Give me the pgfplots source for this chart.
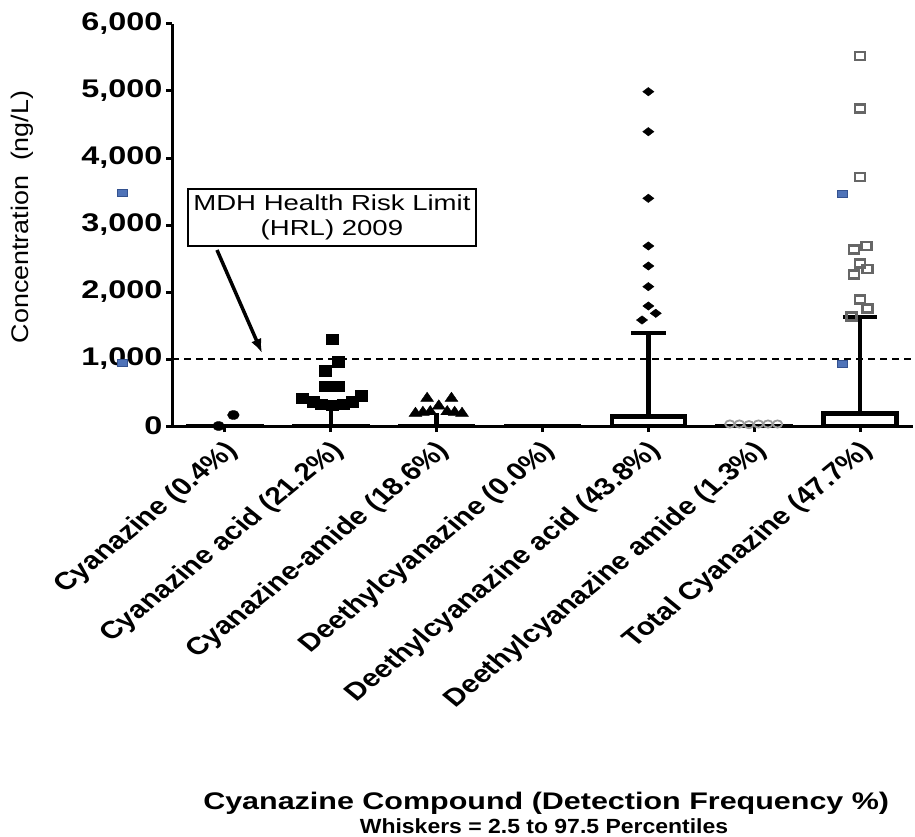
\documentclass[border=0pt]{standalone}
\usepackage{fontspec}
\setmainfont{Liberation Sans}
\newfontfamily\wide{Liberation Sans}[FakeStretch=1.27]
\newfontfamily\ylf{Liberation Sans}[FakeStretch=1.12]
\usepackage{pgfplots}
\pgfplotsset{compat=1.18}
\usetikzlibrary{arrows.meta}
\definecolor{bluesq}{HTML}{4F73B8}
\definecolor{bluesqd}{HTML}{34528F}
\definecolor{graysq}{HTML}{666666}
\definecolor{graycirc}{HTML}{9C9C9C}
\begin{document}
\begin{tikzpicture}
\begin{axis}[
  at={(172pt,410pt)}, anchor=south west,
  scale only axis, width=741pt, height=402pt,
  xmin=0.5, xmax=7.5, ymin=0, ymax=6000,
  axis x line=bottom, axis y line=left,
  axis line style={line width=3pt, -},
  xtick={1,2,3,4,5,6,7},
  xticklabels={Cyanazine (0.4\%),Cyanazine acid (21.2\%),Cyanazine-amide (18.6\%),Deethylcyanazine (0.0\%),Deethylcyanazine acid (43.8\%),Deethylcyanazine amide (1.3\%),Total Cyanazine (47.7\%)},
  ytick={0,1000,2000,3000,4000,5000,6000},
  tick align=outside, major tick length=6pt,
  tick style={line width=3pt, black},
  xticklabel style={font=\bfseries\fontsize{24.5}{26}\selectfont, xshift=11pt, yshift=-13pt, xscale=1.22, rotate=45, anchor=east},
  yticklabel style={font=\wide\bfseries\fontsize{25.5}{28}\selectfont},
  /pgf/number format/assume math mode=true,
  /pgf/number format/1000 sep={,},
  scaled y ticks=false,
  clip=false,
  boxst/.style={black, line width=4.5pt, line join=miter, line cap=rect, mark=none},
]
% HRL line
\addplot[line width=1.3pt, dash pattern=on 7pt off 5pt] coordinates {(0.5,1000) (7.5,1000)};
% degenerate boxes at zero
\addplot[boxst] coordinates {(0.655,0) (1.345,0)};
\addplot[boxst] coordinates {(1.655,0) (2.345,0)};
\addplot[boxst] coordinates {(2.655,0) (3.345,0)};
\addplot[boxst] coordinates {(3.655,0) (4.345,0)};
\addplot[boxst] coordinates {(5.655,0) (6.345,0)};
% whiskers for cat 2, 3
\addplot[boxst, line cap=butt] coordinates {(2,0) (2,340)};
\addplot[boxst, line cap=butt] coordinates {(1.8375,340) (2.1625,340)};
\addplot[boxst, line cap=butt] coordinates {(3,0) (3,200)};
% Deethylcyanazine acid box
\addplot[boxst, line cap=butt] coordinates {(5,140) (5,1390)};
\addplot[boxst, line cap=butt] coordinates {(4.8375,1390) (5.1625,1390)};
\addplot[boxst, fill=white] coordinates {(4.655,0) (5.345,0) (5.345,140) (4.655,140) (4.655,0)};
% Total box
\addplot[boxst, line cap=butt] coordinates {(7,190) (7,1630)};
\addplot[boxst, line cap=butt] coordinates {(6.8375,1630) (7.1625,1630)};
\addplot[boxst, fill=white] coordinates {(6.655,0) (7.345,0) (7.345,190) (6.655,190) (6.655,0)};
% points
\addplot[only marks, black, mark=*, mark size=4.5pt, mark options={xscale=1.3}] coordinates {(0.94,0) (1.08,164)};
\addplot[only marks, black, mark=square*, mark size=5.2pt, mark options={xscale=1.15}] coordinates {
(2.01,1294) (2.07,960) (1.95,826) (1.95,597) (2.07,597) (1.73,413) (2.29,453) (1.83,363) (1.91,328) (2.01,313) (2.12,328) (2.2,363)};
\addplot[only marks, black, mark=triangle*, mark size=6.2pt, mark options={xscale=1.2}] coordinates {
(2.91,413) (3.14,413) (3.02,299) (2.8,189) (2.87,204) (2.94,214) (3.1,214) (3.17,204) (3.24,189)};
\addplot[only marks, black, mark=diamond*, mark size=5.6pt, mark options={rotate=90}] coordinates {
(5,4990) (5,4393) (5,3398) (5,2687) (5,2388) (5,2080) (5,1791) (5.07,1682) (4.94,1582)};
\addplot[only marks, graycirc, mark=o, mark size=3.6pt, mark options={xscale=1.3, line width=1.8pt}] coordinates {
(5.77,30) (5.86,30) (5.95,20) (6.04,30) (6.13,30) (6.22,30)};
\addplot[only marks, graysq, mark=square, mark size=4pt, mark options={xscale=1.25, line width=2.4pt}] coordinates {
(7,5522) (7,4736) (7,3716) (6.94,2637) (7.06,2687) (7,2428) (7.07,2343) (6.94,2264) (7,1891) (7.07,1756) (6.92,1632)};
\addplot[only marks, mark=square*, mark size=3.5pt, mark options={xscale=1.4, fill=bluesq, draw=bluesqd, line width=0.6pt}] coordinates {
(6.83,3473) (6.83,935) (0.03,3477) (0.03,940)};
% annotation
\node[draw, line width=1.2pt, fill=white, minimum width=288pt, minimum height=57pt, inner sep=0pt, align=center, font=\wide\fontsize{21.7}{25}\selectfont] at (axis cs:2.011,3112) {MDH Health Risk Limit\\(HRL) 2009};
\draw[line width=3.5pt, -{Latex[length=14pt,width=11pt]}] (axis cs:0.925,2627) -- (axis cs:1.35,1090);
\node[rotate=90, font=\ylf\fontsize{24}{26}\selectfont] at (rel axis cs:-0.2024,0.52) {Concentration\ \ (ng/L)};
\node[font=\wide\bfseries\fontsize{24}{26}\selectfont] at (rel axis cs:0.505,-0.938) {Cyanazine Compound (Detection Frequency \%)};
\node[font=\ylf\bfseries\fontsize{20.5}{22}\selectfont] at (rel axis cs:0.502,-0.995) {Whiskers = 2.5 to 97.5 Percentiles};
\end{axis}
\pgfresetboundingbox
\path[use as bounding box] (0,0) rectangle (915pt,836pt);
\end{tikzpicture}
\end{document}
